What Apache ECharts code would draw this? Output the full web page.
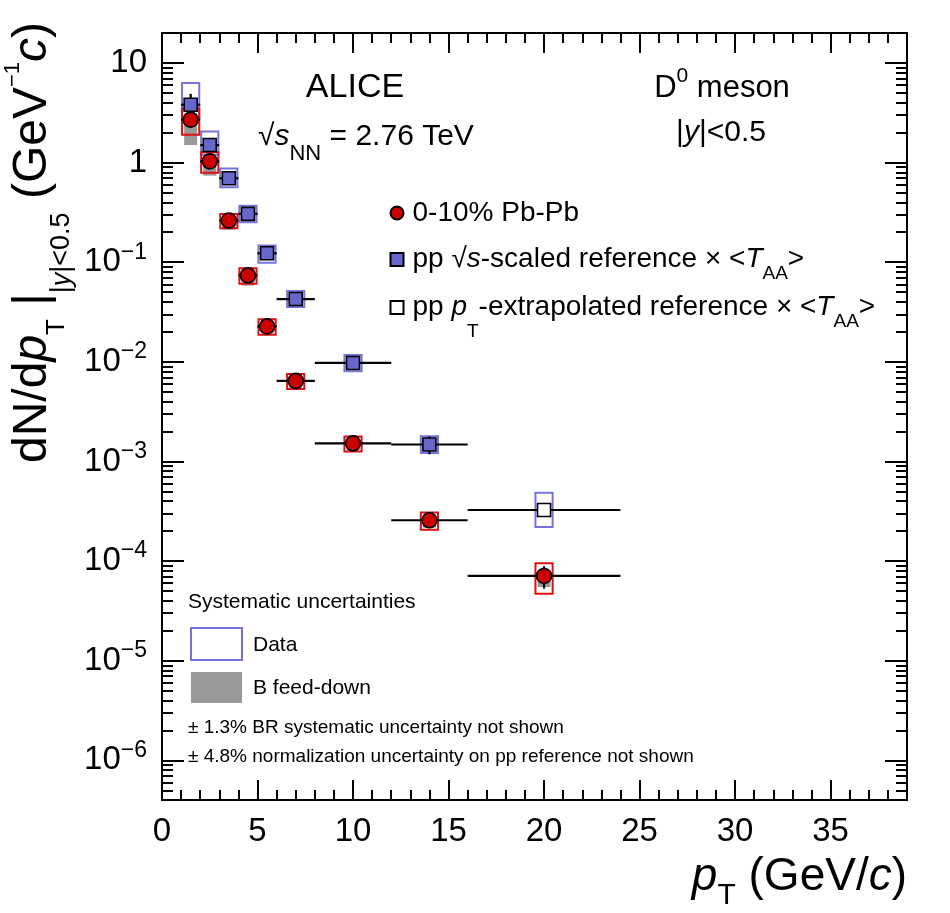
<!DOCTYPE html>
<html>
<head>
<meta charset="utf-8">
<script src="https://cdn.jsdelivr.net/npm/echarts@6.0.0/dist/echarts.min.js"></script>
<style>
html,body{margin:0;padding:0;background:#fff;}
#chart{width:950px;height:913px;}
</style>
</head>
<body>
<div id="chart"></div>
<script>
// ---------------- data ----------------
const ptBinCenter = [1.5, 2.5, 3.5, 4.5, 5.5, 7, 10, 14, 20];
const ptBinLow    = [1, 2, 3, 4, 5, 6, 8, 12, 16];
const ptBinHigh   = [2, 3, 4, 5, 6, 8, 12, 16, 24];

// 0-10% Pb-Pb
const pbpbYield        = [2.70, 1.03, 0.262, 0.0738, 0.0227, 0.00644, 0.00152, 0.000257, 0.0000710];
const pbpbStat         = [0.30, 0.10, 0.020, 0.0050, 0.0015, 0.00040, 0.00010, 0.000020, 0.0000180];
const pbpbSyst         = [0.80, 0.24, 0.043, 0.0130, 0.0040, 0.00110, 0.00026, 0.000050, 0.0000240];
const pbpbFeedDownLow  = [1.20, 0.29, 0.050, 0.0155, 0.0034, 0.00100, 0.00023, 0.000040, 0.0000160];
const pbpbFeedDownHigh = [0.30, 0.08, 0.010, 0.0030, 0.0008, 0.00020, 0.00005, 0.000010, 0.0000030];

// pp sqrt(s)-scaled reference x <TAA>
const ppPt        = [1.5, 2.5, 3.5, 4.5, 5.5, 7, 10, 14];
const ppPtLow     = [1, 2, 3, 4, 5, 6, 8, 12];
const ppPtHigh    = [2, 3, 4, 5, 6, 8, 12, 16];
const ppYield     = [3.81, 1.50, 0.697, 0.306, 0.123, 0.0427, 0.00975, 0.00148];
const ppStat      = [1.10, 0.15, 0.050, 0.020, 0.006, 0.0020, 0.00050, 0.00030];
const ppSystLow   = [1.00, 0.30, 0.130, 0.054, 0.024, 0.0072, 0.00170, 0.00026];
const ppSystHigh  = [2.50, 0.55, 0.175, 0.064, 0.024, 0.0086, 0.00200, 0.00031];

// pp pT-extrapolated reference x <TAA>
const ppExtPt       = [20];
const ppExtPtLow    = [16];
const ppExtPtHigh   = [24];
const ppExtYield    = [0.000326];
const ppExtSystLow  = [0.000106];
const ppExtSystHigh = [0.000160];

// axes / ticks
const X_MIN = 0, X_MAX = 39;
const Y_MIN = 4e-7, Y_MAX = 20;
const xMajorTicks = [0, 5, 10, 15, 20, 25, 30, 35];
const xMinorTicks = [1,2,3,4,6,7,8,9,11,12,13,14,16,17,18,19,21,22,23,24,26,27,28,29,31,32,33,34,36,37,38];
const yMajorTicks = [1e-6, 1e-5, 1e-4, 1e-3, 1e-2, 1e-1, 1, 10];
const yDecades = [1e-7, 1e-6, 1e-5, 1e-4, 1e-3, 1e-2, 1e-1, 1, 10];
const yMinorMultipliers = [2, 3, 4, 5, 6, 7, 8, 9];

// ---------------- styling ----------------
const FF = '"Liberation Sans", Arial, Helvetica, sans-serif';
const RED = '#cc0000', RED_BOX = '#dd1111';
const BLUE = '#6666cc', BLUE_BOX = '#7474da';
const GRAY = '#999999';
const BOX_HALF = 0.45, FD_HALF = 0.34;

const yMinorTicks = [];
yDecades.forEach(d => yMinorMultipliers.forEach(m => {
  const v = m * d;
  if (v > Y_MIN * 1.0001 && v < Y_MAX * 0.9999) yMinorTicks.push(v);
}));

// ---------------- build series data ----------------
const pbpbFdData = ptBinCenter.map((x, i) => [x, pbpbYield[i] - pbpbFeedDownLow[i], pbpbYield[i] + pbpbFeedDownHigh[i]]);
const pbpbBoxData = ptBinCenter.map((x, i) => [x, pbpbYield[i] - pbpbSyst[i], pbpbYield[i] + pbpbSyst[i]]);
const ppBoxData = ppPt.map((x, i) => [x, ppYield[i] - ppSystLow[i], ppYield[i] + ppSystHigh[i]]);
const ppExtBoxData = ppExtPt.map((x, i) => [x, ppExtYield[i] - ppExtSystLow[i], ppExtYield[i] + ppExtSystHigh[i]]);

const pbpbErrData = ptBinCenter.map((x, i) => [x, ptBinLow[i], ptBinHigh[i], pbpbYield[i], pbpbYield[i] - pbpbStat[i], pbpbYield[i] + pbpbStat[i]]);
const ppErrData = ppPt.map((x, i) => [x, ppPtLow[i], ppPtHigh[i], ppYield[i], ppYield[i] - ppStat[i], ppYield[i] + ppStat[i]]);
const ppExtErrData = ppExtPt.map((x, i) => [x, ppExtPtLow[i], ppExtPtHigh[i], ppExtYield[i], ppExtYield[i], ppExtYield[i]]);

function boxSeries(name, data, half, style) {
  return {
    type: 'custom', name: name, silent: true, z: 2, animation: false,
    data: data,
    renderItem: function (params, api) {
      const x = api.value(0), lo = api.value(1), hi = api.value(2);
      const p1 = api.coord([x - half, hi]);
      const p2 = api.coord([x + half, lo]);
      return { type: 'rect', shape: { x: p1[0], y: p1[1], width: p2[0] - p1[0], height: p2[1] - p1[1] }, style: style };
    }
  };
}
function errSeries(name, data) {
  return {
    type: 'custom', name: name, silent: true, z: 3, animation: false,
    data: data,
    renderItem: function (params, api) {
      const x = api.value(0), xl = api.value(1), xh = api.value(2), y = api.value(3), yl = api.value(4), yh = api.value(5);
      const l = api.coord([xl, y]), r = api.coord([xh, y]);
      const t = api.coord([x, yh]), b = api.coord([x, yl]);
      const st = { stroke: '#000', lineWidth: 2.2 };
      return { type: 'group', children: [
        { type: 'line', shape: { x1: l[0], y1: l[1], x2: r[0], y2: r[1] }, style: st },
        { type: 'line', shape: { x1: t[0], y1: t[1], x2: b[0], y2: b[1] }, style: st }
      ]};
    }
  };
}

const series = [
  boxSeries('pbpbFeedDown', pbpbFdData, FD_HALF, { fill: GRAY, stroke: null }),
  boxSeries('ppSyst', ppBoxData, BOX_HALF, { fill: 'none', stroke: BLUE_BOX, lineWidth: 2 }),
  boxSeries('ppExtSyst', ppExtBoxData, BOX_HALF, { fill: 'none', stroke: BLUE_BOX, lineWidth: 2 }),
  boxSeries('pbpbSyst', pbpbBoxData, BOX_HALF, { fill: 'none', stroke: RED_BOX, lineWidth: 2 }),
  errSeries('ppErr', ppErrData),
  errSeries('ppExtErr', ppExtErrData),
  errSeries('pbpbErr', pbpbErrData),
  { type: 'scatter', name: 'pp', z: 5, animation: false, silent: true,
    data: ppPt.map((x, i) => [x, ppYield[i]]),
    symbol: 'rect', symbolSize: 13,
    itemStyle: { color: BLUE, borderColor: '#000', borderWidth: 1.6, opacity: 1 } },
  { type: 'scatter', name: 'ppext', z: 5, animation: false, silent: true,
    data: ppExtPt.map((x, i) => [x, ppExtYield[i]]),
    symbol: 'rect', symbolSize: 13,
    itemStyle: { color: '#ffffff', borderColor: '#000', borderWidth: 1.6, opacity: 1 } },
  { type: 'scatter', name: 'pbpb', z: 5, animation: false, silent: true,
    data: ptBinCenter.map((x, i) => [x, pbpbYield[i]]),
    symbol: 'circle', symbolSize: 15,
    itemStyle: { color: RED, borderColor: '#000', borderWidth: 1.6, opacity: 1 } }
];

// ---------------- axes ----------------
const lineSt = { color: '#000', width: 2 };
function yLabel(v) {
  const e = Math.round(Math.log10(v));
  if (e === 1) return '{b|10}';
  if (e === 0) return '{b|1}';
  return '{b|10}{sup|\u2212' + (-e) + '}';
}
const yCommon = { type: 'log', logBase: 10, min: Y_MIN, max: Y_MAX, splitLine: { show: false }, minorTick: { show: false } };
const xCommon = { type: 'value', min: X_MIN, max: X_MAX, splitLine: { show: false }, minorTick: { show: false } };

const yAxis = [
  Object.assign({}, yCommon, { position: 'left',
    axisLine: { show: true, onZero: false, lineStyle: lineSt },
    axisTick: { show: true, inside: true, length: 22, lineStyle: lineSt, customValues: yMajorTicks },
    axisLabel: { show: true, customValues: yMajorTicks, margin: 15, formatter: yLabel,
      rich: {
        b: { fontSize: 33, fontFamily: FF, color: '#000', lineHeight: 40 },
        sup: { fontSize: 23, fontFamily: FF, color: '#000', lineHeight: 23, padding: [0, 0, 20, 0] }
      } } }),
  Object.assign({}, yCommon, { position: 'left',
    axisLine: { show: false, onZero: false },
    axisTick: { show: true, inside: true, length: 11, lineStyle: lineSt, customValues: yMinorTicks },
    axisLabel: { show: false } }),
  Object.assign({}, yCommon, { position: 'right',
    axisLine: { show: true, onZero: false, lineStyle: lineSt },
    axisTick: { show: true, inside: true, length: 22, lineStyle: lineSt, customValues: yMajorTicks },
    axisLabel: { show: false } }),
  Object.assign({}, yCommon, { position: 'right',
    axisLine: { show: false, onZero: false },
    axisTick: { show: true, inside: true, length: 11, lineStyle: lineSt, customValues: yMinorTicks },
    axisLabel: { show: false } })
];
const xAxis = [
  Object.assign({}, xCommon, { position: 'bottom',
    axisLine: { show: true, onZero: false, lineStyle: lineSt },
    axisTick: { show: true, inside: true, length: 20, lineStyle: lineSt, customValues: xMajorTicks },
    axisLabel: { show: true, customValues: xMajorTicks, margin: 15, fontSize: 33, fontFamily: FF, color: '#000', lineHeight: 33 } }),
  Object.assign({}, xCommon, { position: 'bottom',
    axisLine: { show: false, onZero: false },
    axisTick: { show: true, inside: true, length: 10, lineStyle: lineSt, customValues: xMinorTicks },
    axisLabel: { show: false } }),
  Object.assign({}, xCommon, { position: 'top',
    axisLine: { show: true, onZero: false, lineStyle: lineSt },
    axisTick: { show: true, inside: true, length: 20, lineStyle: lineSt, customValues: xMajorTicks },
    axisLabel: { show: false } }),
  Object.assign({}, xCommon, { position: 'top',
    axisLine: { show: false, onZero: false },
    axisTick: { show: true, inside: true, length: 10, lineStyle: lineSt, customValues: xMinorTicks },
    axisLabel: { show: false } })
];

// ---------------- legend ----------------
const legendText = {
  pbpb: '{a0|0-10% Pb-Pb}',
  pp: '{a0|pp \u221A}{ai|s}{a|-scaled reference \u00D7 <}{ai|T}{sub|AA}{a|>}',
  ppext: '{a0|pp }{ai|p}{subT|T}{a|-extrapolated reference \u00D7 <}{ai|T}{sub|AA}{a|>}'
};
const legendRich = {
  a0: { fontSize: 28, fontFamily: FF, color: '#000', lineHeight: 72, padding: [0, 0, 0, 4] },
  a: { fontSize: 28, fontFamily: FF, color: '#000', lineHeight: 72 },
  ai: { fontSize: 28, fontFamily: FF, fontStyle: 'italic', color: '#000', lineHeight: 72 },
  sub: { fontSize: 19, fontFamily: FF, color: '#000', lineHeight: 19, padding: [28, 0, 0, 0] },
  subT: { fontSize: 19, fontFamily: FF, color: '#000', lineHeight: 19, padding: [48, 0, 0, 0] }
};
function mkLegend(name, top) {
  return {
    show: true, data: [name], orient: 'vertical', left: 389.5, top: top, padding: 0,
    itemWidth: 13, itemHeight: 13, selectedMode: false,
    formatter: n => legendText[n],
    textStyle: { fontSize: 28, fontFamily: FF, color: '#000', rich: legendRich }
  };
}

// ---------------- annotations ----------------
function T(x, y, text, rich, opts) {
  return Object.assign({ type: 'text', x: x, y: y, silent: true, z: 100,
    style: Object.assign({ text: text, rich: rich, fill: '#000', align: 'left', verticalAlign: 'middle', fontFamily: FF }, opts || {}) });
}
const graphic = [
  T(355, 88, 'ALICE', null, { fontSize: 34, align: 'center' }),
  T(722, 88, '{b|D}{sup|0}{b| meson}', {
    b: { fontSize: 31, fontFamily: FF, fill: '#000', lineHeight: 36 },
    sup: { fontSize: 21, fontFamily: FF, fill: '#000', lineHeight: 21, padding: [0, 0, 24, 0] }
  }, { align: 'center' }),
  T(258, 137, '{b|\u221A}{bi|s}{sub|NN}{b| = 2.76 TeV}', {
    b: { fontSize: 30, fontFamily: FF, fill: '#000', lineHeight: 36 },
    bi: { fontSize: 30, fontFamily: FF, fontStyle: 'italic', fill: '#000', lineHeight: 36 },
    sub: { fontSize: 22, fontFamily: FF, fill: '#000', lineHeight: 22, padding: [34, 0, 0, 0] }
  }),
  T(721, 133, '{b||}{bi|y}{b||<0.5}', {
    b: { fontSize: 30, fontFamily: FF, fill: '#000', lineHeight: 36 },
    bi: { fontSize: 30, fontFamily: FF, fontStyle: 'italic', fill: '#000', lineHeight: 36 }
  }, { align: 'center' }),
  // systematic uncertainty legend
  T(188, 602, 'Systematic uncertainties', null, { fontSize: 21 }),
  { type: 'rect', silent: true, z: 100, shape: { x: 191, y: 628, width: 51, height: 32 }, style: { fill: 'none', stroke: BLUE_BOX, lineWidth: 2 } },
  T(253, 645, 'Data', null, { fontSize: 21 }),
  { type: 'rect', silent: true, z: 100, shape: { x: 191, y: 672, width: 51, height: 31 }, style: { fill: GRAY } },
  T(253, 688, 'B feed-down', null, { fontSize: 21 }),
  T(188, 728, '\u00B1 1.3% BR systematic uncertainty not shown', null, { fontSize: 19 }),
  T(188, 757, '\u00B1 4.8% normalization uncertainty on pp reference not shown', null, { fontSize: 19 }),
  // axis titles
  T(907, 877, '{bi|p}{subT|T}{b| (GeV/}{bi|c}{b|)}', {
    b: { fontSize: 46, fontFamily: FF, fill: '#000', lineHeight: 54 },
    bi: { fontSize: 46, fontFamily: FF, fontStyle: 'italic', fill: '#000', lineHeight: 54 },
    subT: { fontSize: 30, fontFamily: FF, fill: '#000', lineHeight: 30, padding: [38, 0, 0, 0] }
  }, { align: 'right' }),
  Object.assign(T(33, 463, '{b|dN/d}{bi|p}{subT|T}{b| |}{sub||}{subi|y}{sub||<0.5}{b| (GeV}{sup|\u22121}{bi|c}{b|)}', {
    b: { fontSize: 48, fontFamily: FF, fill: '#000', lineHeight: 56 },
    bi: { fontSize: 48, fontFamily: FF, fontStyle: 'italic', fill: '#000', lineHeight: 56 },
    subT: { fontSize: 26, fontFamily: FF, fill: '#000', lineHeight: 26, padding: [48, 0, 0, 0] },
    sub: { fontSize: 27, fontFamily: FF, fill: '#000', lineHeight: 27, padding: [58, 0, 0, 0] },
    subi: { fontSize: 27, fontFamily: FF, fontStyle: 'italic', fill: '#000', lineHeight: 27, padding: [58, 0, 0, 0] },
    sup: { fontSize: 22, fontFamily: FF, fill: '#000', lineHeight: 22, padding: [0, 0, 40, 0] }
  }), { rotation: Math.PI / 2 })
];

const chart = echarts.init(document.getElementById('chart'), null, { renderer: 'canvas' });
chart.setOption({
  animation: false,
  backgroundColor: '#ffffff',
  textStyle: { fontFamily: FF },
  grid: { left: 162, right: 43, top: 33, bottom: 113, containLabel: false },
  xAxis: xAxis,
  yAxis: yAxis,
  legend: [mkLegend('pbpb', 199), mkLegend('pp', 236), mkLegend('ppext', 274)],
  graphic: graphic,
  series: series
});
</script>
</body>
</html>
